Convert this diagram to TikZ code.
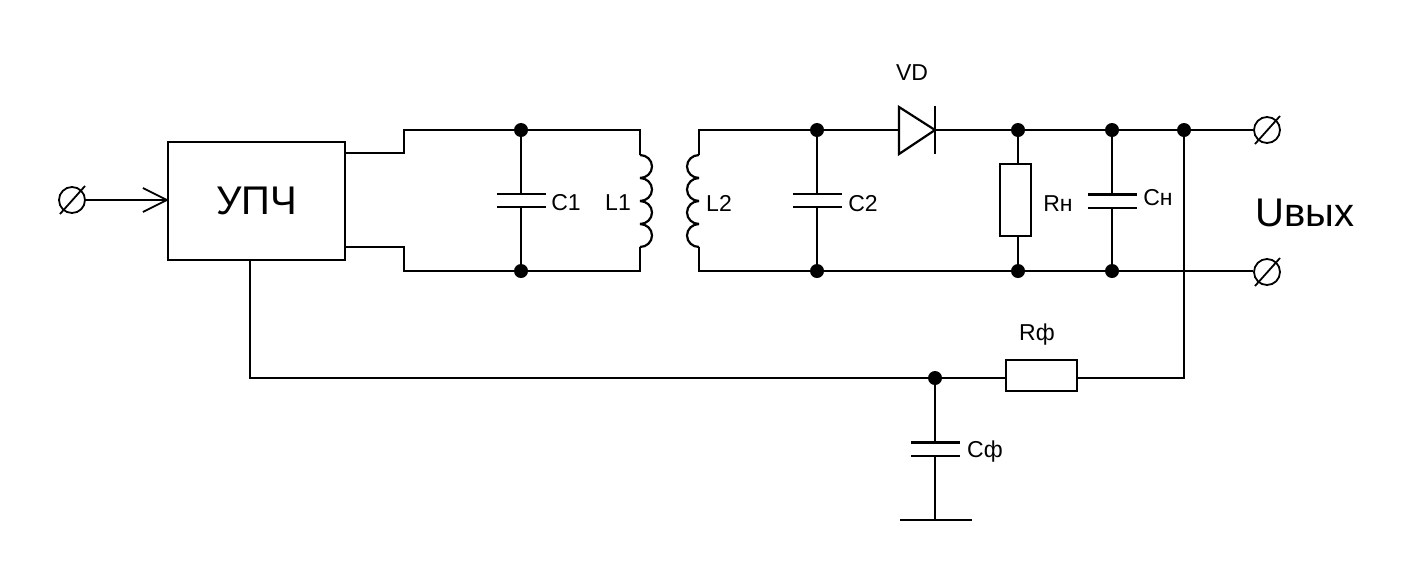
\documentclass[tikz,border=0pt]{standalone}
\usepackage{fontspec}
\setmainfont{Liberation Sans}
\usetikzlibrary{arrows.meta}
\tikzset{
  wire/.style={line width=1.1pt, line join=miter},
  junction/.style={circle, fill=black, inner sep=0pt, minimum size=7pt},
  terminal/.style={circle, draw, line width=0.9pt, inner sep=0pt, minimum size=13pt},
  resistor/.style={draw, line width=1.1pt, inner sep=0pt},
  capbox/.style={inner sep=0pt, minimum width=24pt, minimum height=6.2pt},
  lbl/.style={font=\fontsize{11.5pt}{13pt}\selectfont, inner sep=0pt},
  biglbl/.style={font=\fontsize{20pt}{22pt}\selectfont, inner sep=0pt}
}
\newcommand{\capplates}[1]{
  \draw[wire] (#1.north west) -- (#1.north east);
  \draw[wire] (#1.south west) -- (#1.south east);
}
\newcommand{\coilbumps}[2]{
  \foreach \k in {0,1,2,3} {
    \draw[wire] ([yshift=-\k*11.5pt]#1) arc (90:#2:6pt and 5.75pt);
  }
}
\begin{document}
\begin{tikzpicture}[x=0.5pt, y=-0.5pt]
  \useasboundingbox (0,0) rectangle (1408,579);

  % amplifier and input
  \node[draw, line width=1.1pt, inner sep=0pt, minimum width=88.5pt, minimum height=59pt, font=\fontsize{20pt}{22pt}\selectfont] (upch) at (256.5,201) {УПЧ};
  \node[terminal] (tin) at (72,200) {};
  \draw[wire, shorten >=-1pt, -{Straight Barb[length=12pt, width=12pt, line width=0.9pt]}] (tin.east) -- (tin.east -| upch.west);

  % output terminals
  \node[terminal] (tout1) at (1267,130) {};
  \node[terminal] (tout2) at (1267,272) {};
  \foreach \t in {tin, tout1, tout2} {
    \draw[line width=0.9pt] ([shift={(-12,14)}]\t.center) -- ([shift={(13,-14)}]\t.center);
  }

  % junctions
  \node[junction] (j1) at (521,130) {};
  \node[junction] (j2) at (521,271) {};
  \node[junction] (j3) at (817,130) {};
  \node[junction] (j4) at (817,271) {};
  \node[junction] (j5) at (1018,130) {};
  \node[junction] (j6) at (1018,271) {};
  \node[junction] (j7) at (1112,130) {};
  \node[junction] (j8) at (1112,271) {};
  \node[junction] (j9) at (1184,130) {};
  \node[junction] (j10) at (935,378) {};

  % capacitors
  \node[capbox] (c1) at (521.5,200.5) {};
  \node[capbox] (c2) at (817.5,200.5) {};
  \node[capbox] (cn) at (1112.5,201) {};
  \node[capbox] (cf) at (935.5,449) {};
  \foreach \c in {c1, c2, cn, cf} {
    \capplates{\c}
  }

  % resistors
  \node[resistor, minimum width=15.5pt, minimum height=36pt] (rn) at (1015.5,200) {};
  \node[resistor, minimum width=35.5pt, minimum height=15.5pt] (rf) at (1041.5,375.5) {};

  % coil ends
  \coordinate (l1t) at (640,155);
  \coordinate (l1b) at (640,247);
  \coordinate (l2t) at (699,155);
  \coordinate (l2b) at (699,247);
  \coilbumps{l1t}{-90}
  \coilbumps{l2t}{270}

  % diode
  \coordinate (vda) at (899,130);
  \coordinate (vdk) at (935,130);
  \draw[wire] (vda) +(0,-23) -- +(0,24) -- (vdk) -- cycle;
  \draw[wire] (vdk) +(0,-24) -- +(0,24);

  % ground
  \coordinate (gnd) at (935,520);
  \draw[wire] (gnd) +(-35,0) -- +(37,0);

  % first circuit
  \draw[wire] (upch.east |- 0,153) -- (404,153) -- (404,130) -- (j1) -- (640,130) -- (l1t);
  \draw[wire] (upch.east |- 0,247) -- (404,247) -- (404,271) -- (j2) -- (640,271) -- (l1b);
  \draw[wire] (j1) -- (j1 |- c1.north);
  \draw[wire] (j2 |- c1.south) -- (j2);

  % second circuit
  \draw[wire] (l2t) -- (699,130) -- (j3) -- (vda);
  \draw[wire] (l2b) -- (699,271) -- (j4) -- (j6) -- (j8) -- (tout2.west |- j8);
  \draw[wire] (vdk) -- (j5) -- (j7) -- (j9) -- (tout1);
  \draw[wire] (j3) -- (j3 |- c2.north);
  \draw[wire] (j4 |- c2.south) -- (j4);
  \draw[wire] (j5) -- (rn.north -| j5);
  \draw[wire] (rn.south -| j5) -- (j6);
  \draw[wire] (j7) -- (j7 |- cn.north);
  \draw[wire] (j8 |- cn.south) -- (j8);

  % feedback
  \draw[wire] (j9) -- (1184,378) -- (rf.east |- 0,378);
  \draw[wire] (rf.west |- 0,378) -- (j10) -- (250,378) -- (upch.south -| 250,0);
  \draw[wire] (j10) -- (j10 |- cf.north);
  \draw[wire] (j10 |- cf.south) -- (gnd);

  % labels
  \node[lbl] (lc1) at (566,203) {C1};
  \node[lbl] (ll1) at (618,203) {L1};
  \node[lbl] (ll2) at (719,203) {L2};
  \node[lbl] (lc2) at (863,204) {C2};
  \node[lbl] (lvd) at (912,73) {VD};
  \node[lbl] (lrn) at (1058,204) {Rн};
  \node[lbl] (lcn) at (1158,198) {Cн};
  \node[lbl] (lrf) at (1037,335) {Rф};
  \node[lbl] (lcf) at (985,452) {Cф};
  \node[biglbl] (luvyh) at (1305,213) {Uвых};
\end{tikzpicture}
\end{document}
